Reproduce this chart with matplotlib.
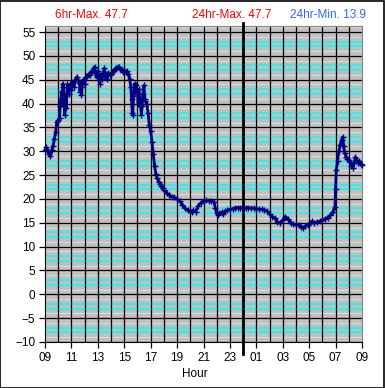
import matplotlib
matplotlib.use("Agg")
import matplotlib.pyplot as plt
from matplotlib.patches import Rectangle

plt.rcParams['font.family'] = ['Liberation Sans', 'DejaVu Sans']

# hours since 09:00 and temperature readings
hours = [0.0, 0.1, 0.2, 0.3, 0.4, 0.5, 0.6, 0.7, 0.8, 0.9,
         1.0, 1.1, 1.15, 1.2, 1.25, 1.3, 1.35, 1.4, 1.45, 1.5,
         1.55, 1.6, 1.7, 1.75, 1.8, 1.9, 2.0, 2.1, 2.2, 2.3,
         2.4, 2.5, 2.6, 2.65, 2.7, 2.75, 2.8, 2.9, 3.0, 3.1,
         3.2, 3.3, 3.4, 3.5, 3.6, 3.7, 3.75, 3.8, 3.9, 4.0,
         4.1, 4.15, 4.2, 4.3, 4.4, 4.5, 4.55, 4.6, 4.7, 4.8,
         4.9, 5.0, 5.1, 5.2, 5.3, 5.4, 5.5, 5.6, 5.7, 5.8,
         5.9, 6.0, 6.1, 6.2, 6.3, 6.4, 6.5, 6.55, 6.6, 6.65,
         6.7, 6.8, 6.85, 6.9, 7.0, 7.05, 7.1, 7.2, 7.3, 7.35,
         7.4, 7.5, 7.55, 7.6, 7.7, 7.8, 7.9, 8.0, 8.1, 8.2,
         8.3, 8.4, 8.5, 8.6, 8.7, 8.8, 8.9, 9.0, 9.2, 9.4,
         9.6, 9.8, 10.0, 10.2, 10.4, 10.6, 10.8, 11.0, 11.1, 11.2,
         11.4, 11.6, 11.8, 12.0, 12.2, 12.4, 12.6, 12.8, 12.9, 13.0,
         13.1, 13.2, 13.4, 13.5, 13.6, 13.8, 14.0, 14.2, 14.4, 14.6,
         14.8, 15.0, 15.2, 15.4, 15.6, 15.8, 16.0, 16.2, 16.4, 16.6,
         16.8, 17.0, 17.2, 17.4, 17.6, 17.8, 18.0, 18.2, 18.4, 18.6,
         18.8, 19.0, 19.2, 19.4, 19.55, 19.7, 19.9, 20.1, 20.2, 20.4,
         20.6, 20.8, 21.0, 21.2, 21.4, 21.6, 21.8, 21.95, 22.0, 22.05,
         22.15, 22.25, 22.35, 22.45, 22.55, 22.6, 22.7, 22.8, 22.9, 23.0,
         23.1, 23.2, 23.3, 23.4, 23.5, 23.6, 23.7, 23.8, 23.9, 24.0]
temps = [30.3, 30.8, 30.0, 29.4, 29.1, 30.2, 31.0, 32.5, 34.0, 36.2,
         36.5, 37.0, 39.5, 41.0, 42.5, 40.0, 44.2, 43.5, 40.0, 37.6,
         41.5, 39.0, 44.0, 43.2, 42.0, 44.0, 42.8, 44.5, 43.5, 45.0,
         45.6, 45.0, 44.3, 42.5, 44.5, 41.8, 43.5, 45.0, 44.0, 45.5,
         45.8, 46.2, 46.0, 46.7, 47.0, 47.5, 47.7, 46.5, 45.5, 46.8,
         45.0, 44.2, 46.0, 45.2, 46.5, 47.4, 45.5, 46.3, 45.2, 46.5,
         46.0, 46.3, 46.6, 46.9, 47.2, 47.5, 47.7, 47.6, 47.3, 47.0,
         46.7, 47.0, 46.6, 46.8, 46.3, 45.2, 43.5, 41.0, 38.0, 37.6,
         41.5, 44.2, 42.5, 43.8, 42.5, 40.0, 43.0, 40.5, 37.6, 39.5,
         42.0, 43.8, 41.0, 40.5, 40.0, 38.0, 35.5, 34.2, 32.0, 29.5,
         26.8, 25.2, 24.3, 23.6, 23.2, 22.7, 22.2, 21.8, 21.2, 20.8,
         20.5, 20.3, 20.0, 19.5, 18.8, 18.0, 17.6, 17.5, 17.2, 17.6,
         17.3, 18.6, 19.2, 19.6, 19.7, 19.6, 19.6, 19.3, 18.0, 17.0,
         16.6, 17.0, 17.2, 16.8, 17.4, 17.6, 17.8, 17.9, 18.1, 18.2,
         18.1, 18.2, 18.1, 18.2, 18.0, 18.1, 17.9, 17.9, 17.8, 17.7,
         17.5, 16.8, 16.2, 16.0, 15.2, 14.9, 15.6, 16.3, 15.8, 14.9,
         14.7, 14.6, 14.6, 14.2, 13.9, 14.3, 14.6, 14.9, 15.3, 15.0,
         15.2, 15.3, 15.6, 15.8, 16.1, 16.6, 17.3, 18.4, 22.0, 26.0,
         28.0, 30.0, 31.4, 32.3, 33.0, 31.0, 29.6, 28.8, 28.4, 28.1,
         27.8, 26.9, 26.5, 27.5, 28.8, 28.2, 27.6, 27.9, 27.4, 27.1]

xtick_pos = [0, 2, 4, 6, 8, 10, 12, 14, 16, 18, 20, 22, 24]
xtick_labels = ["09", "11", "13", "15", "17", "19", "21", "23",
                "01", "03", "05", "07", "09"]
ytick_pos = [-10, -5, 0, 5, 10, 15, 20, 25, 30, 35, 40, 45, 50, 55]

fig = plt.figure(figsize=(3.85, 3.88), dpi=100)
ax = fig.add_axes([45 / 385, 46 / 388, 317 / 385, 316 / 388])
ax.set_facecolor("#c0c0c0")
ax.set_xlim(0, 24)
ax.set_ylim(-10, 56.26)

# minor horizontal lines, cyan and pale
for v in range(-10, 57):
    r = v % 5
    if r in (2, 3):
        ax.axhline(v, color="#00ffff", lw=1.1, zorder=1)
    elif r in (1, 4):
        ax.axhline(v, color="#dadada", lw=0.8, zorder=1)
for v in ytick_pos:
    ax.axhline(v, color="black", lw=0.9, zorder=2)
for h in range(1, 24):
    ax.axvline(h, color="black", lw=0.9, zorder=2)

# midnight marker
ax.axvline(15, ymin=-12 / 316, ymax=1.01, color="black", lw=2.0,
           zorder=3, clip_on=False)

ax.plot(hours, temps, color="#000080", lw=2, marker="+", ms=4.5, mew=1,
        zorder=4, clip_on=False)

ax.set_xticks(xtick_pos)
ax.set_xticklabels(xtick_labels)
ax.set_yticks(ytick_pos)
ax.tick_params(axis="both", direction="out", length=4, width=0.9,
               labelsize=8.5, colors="black")
ax.tick_params(axis="x", pad=3)
ax.tick_params(axis="y", pad=3)

for side in ["top", "right"]:
    ax.spines[side].set_color("#808080")
ax.spines["left"].set_color("black")
ax.spines["bottom"].set_color("black")

fig.text(55 / 385, 1 - 15 / 388, "6hr-Max. 47.7", color="#ff0000",
         fontsize=8.5, va="center", ha="left")
fig.text(192 / 385, 1 - 15 / 388, "24hr-Max. 47.7", color="#ff0000",
         fontsize=8.5, va="center", ha="left")
fig.text(290 / 385, 1 - 15 / 388, "24hr-Min. 13.9", color="#3366ff",
         fontsize=8.5, va="center", ha="left")
fig.text(195 / 385, 1 - 374 / 388, "Hour", color="black", fontsize=8.5,
         va="center", ha="center")

fig.patches.append(Rectangle((0.001, 0.001), 0.997, 0.997,
                             transform=fig.transFigure, fill=False,
                             edgecolor="black", lw=1.2))

fig.savefig("out.png", dpi=100)
